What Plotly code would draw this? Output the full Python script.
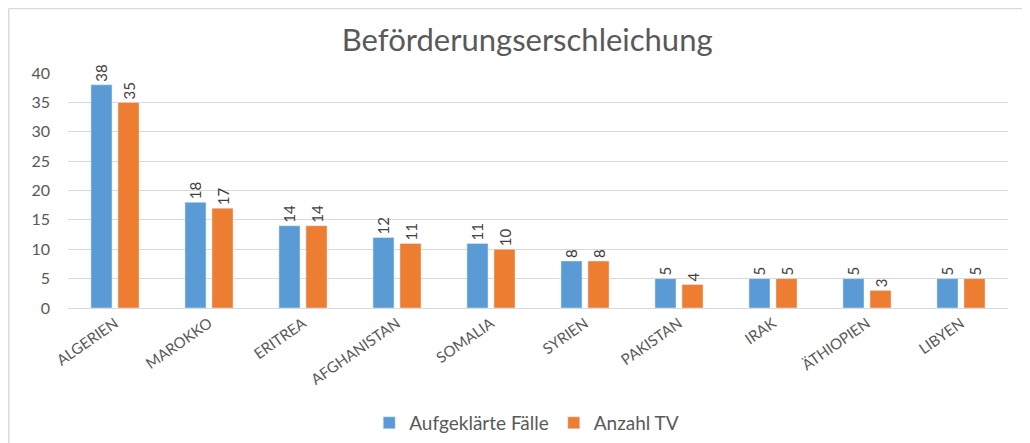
import plotly.graph_objects as go

# Data
laender = ["ALGERIEN", "MAROKKO", "ERITREA", "AFGHANISTAN", "SOMALIA",
           "SYRIEN", "PAKISTAN", "IRAK", "ÄTHIOPIEN", "LIBYEN"]
aufgeklaert = [38, 18, 14, 12, 11, 8, 5, 5, 5, 5]
anzahl_tv = [35, 17, 14, 11, 10, 8, 4, 5, 3, 5]

BLUE = "#5B9BD5"
ORANGE = "#ED7D31"
GREY = "#595959"
FONT = "Lato, Open Sans, sans-serif"

fig = go.Figure()

for name, values, color in [("Aufgeklärte Fälle", aufgeklaert, BLUE),
                            ("Anzahl TV", anzahl_tv, ORANGE)]:
    fig.add_trace(go.Bar(
        name=name,
        x=laender,
        y=values,
        marker=dict(color=color),
        text=values,
        textposition="outside",
        textangle=-90,
        textfont=dict(color="#404040", size=15, family=FONT),
        cliponaxis=False,
    ))

# the page adds an 8px body margin, so the figure is 8px smaller
fig.update_layout(
    width=1022,
    height=435,
    margin=dict(l=60, r=22, t=65, b=135, autoexpand=False),
    paper_bgcolor="white",
    plot_bgcolor="white",
    barmode="group",
    bargap=0.425,
    bargroupgap=0.22,
    title=dict(
        text="Beförderungserschleichung",
        x=0.508,
        xanchor="center",
        y=0.926,
        yanchor="middle",
        font=dict(family=FONT, size=31, color=GREY),
    ),
    font=dict(family=FONT, size=15, color=GREY),
    legend=dict(
        orientation="h",
        x=0.488,
        xanchor="center",
        y=-0.489,
        yanchor="middle",
        font=dict(size=19, color=GREY),
        itemwidth=30,
    ),
    xaxis=dict(
        tickangle=-35,
        showline=True,
        linecolor="#d9d9d9",
        automargin=False,
        tickfont=dict(size=15, color=GREY),
    ),
    yaxis=dict(
        range=[0, 40],
        dtick=5,
        gridcolor="#d9d9d9",
        zeroline=False,
        automargin=False,
        ticklabelstandoff=17,
        tickfont=dict(size=16, color=GREY),
    ),
    shapes=[
        # light frame around the chart (top and left edges visible)
        dict(type="line", xref="paper", yref="paper",
             x0=-0.063, x1=1.03, y0=1.274, y1=1.274,
             line=dict(color="#d9d9d9", width=1.5)),
        dict(type="line", xref="paper", yref="paper",
             x0=-0.063, x1=-0.063, y0=1.274, y1=-0.6,
             line=dict(color="#d9d9d9", width=1.5)),
    ],
)

fig.write_html("out.html")
